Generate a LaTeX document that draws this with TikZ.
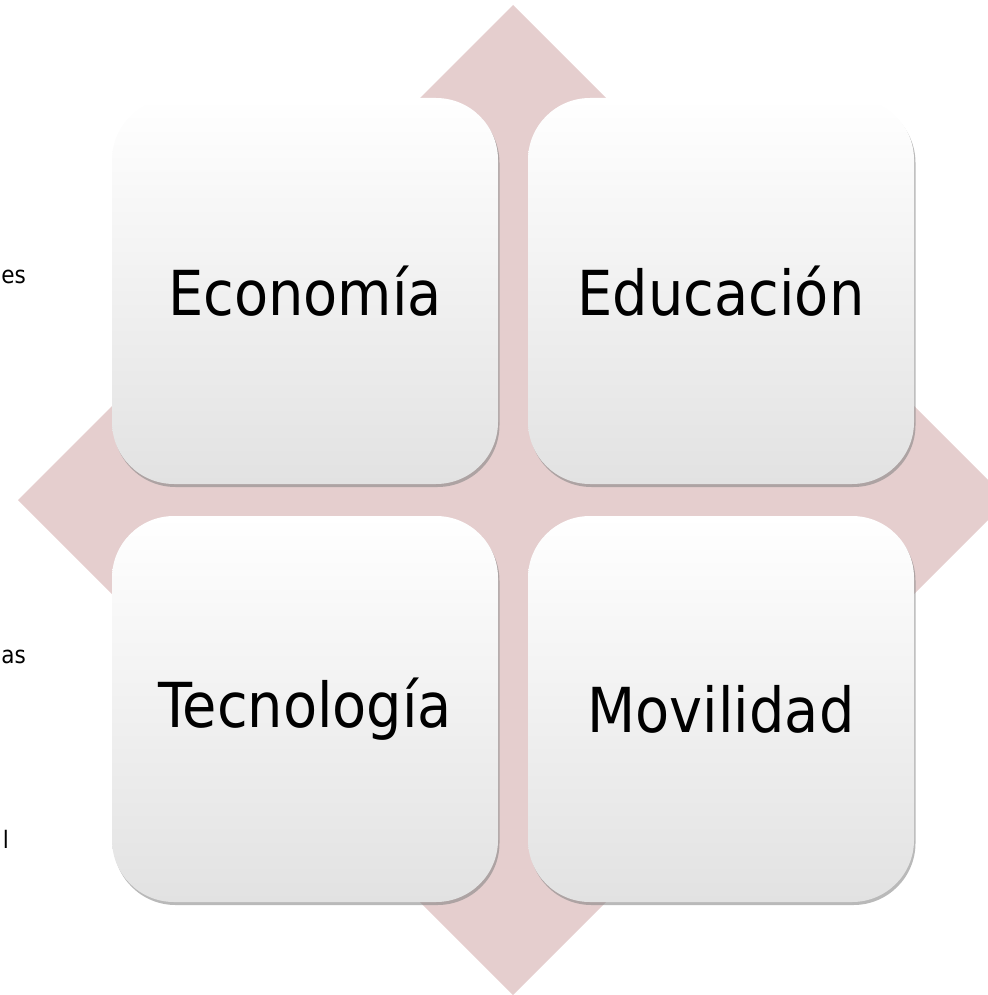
\documentclass[tikz,border=0pt]{standalone}
\usepackage{fontspec}
\setmainfont{DejaVu Sans}[FakeStretch=0.9]
\usepackage{tikz}
\usetikzlibrary{shadows}

\definecolor{rosefill}{RGB}{229,206,206}
\definecolor{boxmiddle}{RGB}{248,248,248}
\definecolor{boxbottom}{RGB}{226,226,226}

\begin{document}
\begin{tikzpicture}[x=1pt,y=-1pt,
    topic box/.style={rectangle,rounded corners=62pt,minimum size=386pt,inner sep=0pt,
                      top color=white,middle color=boxmiddle,bottom color=boxbottom,
                      drop shadow={shadow xshift=1.5pt,shadow yshift=-3pt,opacity=0.55},
                      font=\fontsize{62}{70}\selectfont},
    side text/.style={anchor=base east,inner sep=0pt,font=\fontsize{24}{28}\selectfont}]

    \useasboundingbox (0,0) rectangle (987,995);

    % background diamond
    \fill[rosefill] (513,5) -- (1008,500) -- (513,995) -- (18,500) -- cycle;

    % cut-off text on the left border
    \node[side text] (frages) at (26,283) {es};
    \node[side text] (fragas) at (26,663) {as};
    \node[side text] (fragl) at (9,848) {l};

    % the four topics
    \node[topic box] (economia) at (305,291) {Economía};
    \node[topic box] (educacion) at (721,291) {Educación};
    \node[topic box] (tecnologia) at (305,709) {Tecnología};
    \node[topic box] (movilidad) at (721,709) {Movilidad};
\end{tikzpicture}
\end{document}
